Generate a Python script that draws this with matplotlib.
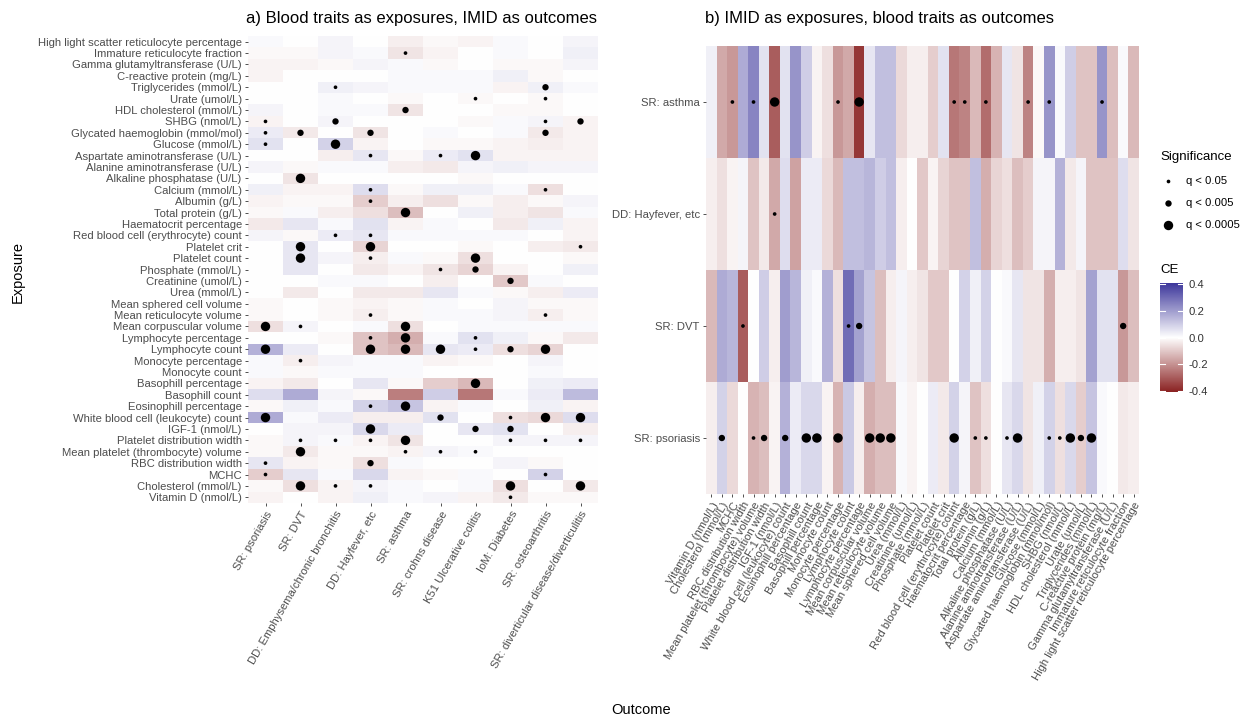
import numpy as np
import matplotlib
matplotlib.use("Agg")
import matplotlib.pyplot as plt
from matplotlib.colors import LinearSegmentedColormap, Normalize

plt.rcParams['font.family'] = ['Liberation Sans', 'DejaVu Sans']

# blood traits, top to bottom as in panel a)
traits = [
    "High light scatter reticulocyte percentage", "Immature reticulocyte fraction",
    "Gamma glutamyltransferase (U/L)", "C-reactive protein (mg/L)", "Triglycerides (mmol/L)",
    "Urate (umol/L)", "HDL cholesterol (mmol/L)", "SHBG (nmol/L)",
    "Glycated haemoglobin (mmol/mol)", "Glucose (mmol/L)", "Aspartate aminotransferase (U/L)",
    "Alanine aminotransferase (U/L)", "Alkaline phosphatase (U/L)", "Calcium (mmol/L)",
    "Albumin (g/L)", "Total protein (g/L)", "Haematocrit percentage",
    "Red blood cell (erythrocyte) count", "Platelet crit", "Platelet count",
    "Phosphate (mmol/L)", "Creatinine (umol/L)", "Urea (mmol/L)", "Mean sphered cell volume",
    "Mean reticulocyte volume", "Mean corpuscular volume", "Lymphocyte percentage",
    "Lymphocyte count", "Monocyte percentage", "Monocyte count", "Basophill percentage",
    "Basophill count", "Eosinophill percentage", "White blood cell (leukocyte) count",
    "IGF-1 (nmol/L)", "Platelet distribution width", "Mean platelet (thrombocyte) volume",
    "RBC distribution width", "MCHC", "Cholesterol (mmol/L)", "Vitamin D (nmol/L)",
]

outcomes_a = ["SR: psoriasis", "SR: DVT", "DD: Emphysema/chronic bronchitis",
              "DD: Hayfever, etc", "SR: asthma", "SR: crohns disease",
              "K51 Ulcerative colitis", "IoM: Diabetes", "SR: osteoarthritis",
              "SR: diverticular disease/diverticulitis"]

# causal estimates, panel a) (rows = traits, cols = outcomes_a)
ce_a = np.array([
    [ 0.01, 0.00, 0.02, 0.00,-0.03,-0.01,-0.02, 0.01, 0.00, 0.02],
    [-0.01,-0.01, 0.02, 0.01,-0.05,-0.02, 0.00, 0.01, 0.00, 0.03],
    [-0.02,-0.02,-0.01, 0.02, 0.01,-0.01, 0.00,-0.01,-0.01, 0.02],
    [-0.02, 0.00, 0.00, 0.00, 0.01, 0.01, 0.01, 0.03,-0.01, 0.00],
    [ 0.00, 0.00, 0.03, 0.02, 0.01, 0.01, 0.01,-0.02, 0.03, 0.01],
    [ 0.00, 0.00, 0.01, 0.00,-0.01, 0.00,-0.01, 0.00,-0.01, 0.00],
    [ 0.02, 0.00, 0.01, 0.01,-0.05, 0.00, 0.00,-0.01,-0.01, 0.00],
    [-0.02, 0.00, 0.02, 0.00, 0.00, 0.00,-0.01, 0.01, 0.02,-0.02],
    [ 0.04,-0.04, 0.00,-0.05, 0.00, 0.01, 0.00, 0.01,-0.04,-0.02],
    [ 0.06, 0.00, 0.09,-0.02, 0.00,-0.01,-0.01,-0.02,-0.03,-0.02],
    [ 0.00, 0.00,-0.03, 0.05,-0.01, 0.04, 0.06,-0.02,-0.02,-0.02],
    [ 0.02,-0.01, 0.01, 0.01,-0.03,-0.04, 0.02, 0.03, 0.02, 0.02],
    [ 0.00,-0.05, 0.00, 0.00, 0.00, 0.00,-0.01, 0.00, 0.00, 0.00],
    [ 0.03,-0.02,-0.02, 0.07,-0.01, 0.03, 0.03, 0.01,-0.06, 0.00],
    [-0.02,-0.01,-0.01,-0.09,-0.03,-0.06,-0.01,-0.03,-0.01, 0.02],
    [-0.01, 0.01,-0.03,-0.06,-0.12, 0.00, 0.03,-0.03,-0.05, 0.01],
    [-0.04, 0.05, 0.01, 0.06,-0.02, 0.01, 0.00,-0.04, 0.03,-0.02],
    [ 0.02,-0.01, 0.04, 0.05, 0.01, 0.01, 0.01, 0.01, 0.00,-0.02],
    [ 0.00, 0.05, 0.00,-0.08, 0.00, 0.00,-0.01, 0.00,-0.03,-0.04],
    [ 0.00, 0.05, 0.02,-0.03, 0.01,-0.01,-0.06, 0.00, 0.00,-0.01],
    [ 0.00, 0.05, 0.00,-0.04,-0.02,-0.05,-0.08,-0.02, 0.00, 0.03],
    [ 0.00, 0.00, 0.01, 0.01, 0.00,-0.03, 0.00,-0.10, 0.01, 0.00],
    [ 0.00,-0.04, 0.00,-0.04,-0.04, 0.05, 0.01,-0.01,-0.03, 0.04],
    [-0.01, 0.00,-0.01,-0.02,-0.01, 0.01, 0.00, 0.02,-0.01,-0.01],
    [-0.01, 0.00,-0.01,-0.03,-0.01, 0.01, 0.01, 0.02,-0.03,-0.01],
    [-0.06, 0.02, 0.00, 0.01,-0.06, 0.00, 0.01, 0.01, 0.01, 0.01],
    [ 0.00, 0.00,-0.01,-0.11,-0.15, 0.01, 0.06, 0.03,-0.01,-0.04],
    [ 0.16, 0.04, 0.00,-0.11,-0.13, 0.05, 0.04,-0.06,-0.08, 0.00],
    [ 0.01,-0.03, 0.02, 0.01, 0.01,-0.02,-0.01, 0.00, 0.02, 0.00],
    [ 0.01,-0.01, 0.01, 0.01, 0.01, 0.00, 0.00, 0.00, 0.01, 0.00],
    [-0.02,-0.04, 0.00, 0.05,-0.01,-0.09,-0.13, 0.00, 0.03, 0.04],
    [ 0.07, 0.17, 0.02,-0.01,-0.24, 0.10,-0.25, 0.01, 0.04, 0.14],
    [-0.01, 0.03, 0.01, 0.09, 0.12,-0.02, 0.01, 0.00, 0.03,-0.02],
    [ 0.17, 0.01, 0.04,-0.03,-0.03, 0.06, 0.00,-0.06,-0.07, 0.07],
    [ 0.00, 0.02, 0.02, 0.08, 0.04, 0.00, 0.05, 0.06, 0.00,-0.03],
    [-0.01, 0.02, 0.01,-0.02,-0.05, 0.00, 0.00, 0.02, 0.02, 0.02],
    [-0.01,-0.04,-0.01,-0.01,-0.02, 0.02, 0.01, 0.00, 0.00, 0.00],
    [ 0.05,-0.02,-0.01,-0.06, 0.01, 0.00, 0.00, 0.02,-0.01, 0.00],
    [-0.09, 0.05, 0.01, 0.08,-0.02,-0.01, 0.01, 0.00, 0.09, 0.00],
    [-0.01,-0.06,-0.02, 0.02, 0.01, 0.00, 0.01,-0.06, 0.00,-0.04],
    [-0.02, 0.00,-0.02, 0.03, 0.01, 0.02,-0.02,-0.04,-0.01,-0.01],
])

# significance level: 0 none, 1 q<0.05, 2 q<0.005, 3 q<0.0005
sig_a = np.array([
    [0,0,0,0,0,0,0,0,0,0],
    [0,0,0,0,1,0,0,0,0,0],
    [0,0,0,0,0,0,0,0,0,0],
    [0,0,0,0,0,0,0,0,0,0],
    [0,0,1,0,0,0,0,0,2,0],
    [0,0,0,0,0,0,1,0,1,0],
    [0,0,0,0,2,0,0,0,0,0],
    [1,0,2,0,0,0,0,0,1,2],
    [1,2,0,2,0,0,0,0,2,0],
    [1,0,3,0,0,0,0,0,0,0],
    [0,0,0,1,0,1,3,0,0,0],
    [0,0,0,0,0,0,0,0,0,0],
    [0,3,0,0,0,0,0,0,0,0],
    [0,0,0,1,0,0,0,0,1,0],
    [0,0,0,1,0,0,0,0,0,0],
    [0,0,0,0,3,0,0,0,0,0],
    [0,0,0,0,0,0,0,0,0,0],
    [0,0,1,1,0,0,0,0,0,0],
    [0,3,0,3,0,0,0,0,0,1],
    [0,3,0,1,0,0,3,0,0,0],
    [0,0,0,0,0,1,2,0,0,0],
    [0,0,0,0,0,0,0,2,0,0],
    [0,0,0,0,0,0,0,0,0,0],
    [0,0,0,0,0,0,0,0,0,0],
    [0,0,0,1,0,0,0,0,1,0],
    [3,1,0,0,3,0,0,0,0,0],
    [0,0,0,1,3,0,1,0,0,0],
    [3,0,0,3,3,3,1,2,3,0],
    [0,1,0,0,0,0,0,0,0,0],
    [0,0,0,0,0,0,0,0,0,0],
    [0,0,0,0,0,0,3,0,0,0],
    [0,0,0,0,0,0,0,0,0,0],
    [0,0,0,1,3,0,0,0,0,0],
    [3,0,0,0,0,2,0,1,3,3],
    [0,0,0,3,0,0,2,2,0,0],
    [0,1,1,1,3,0,0,1,1,1],
    [0,3,0,0,1,1,1,0,0,0],
    [1,0,0,2,0,0,0,0,0,0],
    [1,0,0,0,0,0,0,0,1,0],
    [0,3,1,1,0,0,0,3,0,3],
    [0,0,0,0,0,0,0,1,0,0],
])

# panel b): IMID exposures (top to bottom), traits on x from Vitamin D to High light scatter
exposures_b = ["SR: asthma", "DD: Hayfever, etc", "SR: DVT", "SR: psoriasis"]
traits_b = traits[::-1]

ce_b = np.array([
    [ 0.03,-0.16,-0.19, 0.17, 0.25, 0.06,-0.30, 0.06, 0.22, 0.10,-0.02,-0.06,-0.19,-0.16,-0.37,
      0.05, 0.13, 0.13,-0.07,-0.03,-0.03,-0.09, 0.06,-0.25,-0.23,-0.13,-0.27,-0.14, 0.05,-0.05,
     -0.23,-0.01, 0.22, 0.01, 0.10,-0.11,-0.11, 0.22,-0.12, 0.01,-0.13],
    [-0.03,-0.06,-0.02, 0.02,-0.11,-0.04,-0.16, 0.07,-0.17, 0.04, 0.04,-0.07,-0.13, 0.13, 0.13,
      0.15, 0.10, 0.13,-0.03, 0.00,-0.10,-0.02,-0.08,-0.11,-0.11, 0.13,-0.15,-0.08,-0.06,-0.12,
     -0.09, 0.02, 0.02, 0.16,-0.04, 0.02,-0.11,-0.11,-0.11, 0.07,-0.05],
    [-0.13, 0.17, 0.15,-0.30, 0.00, 0.10,-0.03, 0.20, 0.15, 0.03, 0.01, 0.16,-0.06, 0.30, 0.19,
      0.12,-0.12,-0.03, 0.02,-0.03,-0.05,-0.10,-0.10, 0.00, 0.09, 0.03, 0.09, 0.00, 0.01, 0.05,
     -0.05,-0.05,-0.15,-0.03,-0.03,-0.05, 0.19, 0.06, 0.06,-0.19,-0.12],
    [-0.03, 0.09,-0.07, 0.00,-0.14,-0.12,-0.02, 0.16, 0.04, 0.08, 0.08,-0.02,-0.14, 0.11,-0.03,
     -0.15,-0.12,-0.12, 0.01,-0.02, 0.00, 0.04,-0.04, 0.09, 0.02,-0.11,-0.06, 0.00, 0.05, 0.08,
     -0.05, 0.03, 0.09,-0.06, 0.08,-0.09, 0.12, 0.01, 0.00,-0.04,-0.03],
])

sig_b = np.array([
    [0,0,1,0,1,0,3,0,0,0,0,0,1,0,3,0,0,0,0,0,0,0,0,1,1,0,1,0,0,0,1,0,1,0,0,0,0,1,0,0,0],
    [0,0,0,0,0,0,1,0,0,0,0,0,0,0,0,0,0,0,0,0,0,0,0,0,0,0,0,0,0,0,0,0,0,0,0,0,0,0,0,0,0],
    [0,0,0,1,0,0,0,0,0,0,0,0,0,1,2,0,0,0,0,0,0,0,0,0,0,0,0,0,0,0,0,0,0,0,0,0,0,0,0,2,0],
    [0,2,0,0,1,2,0,2,0,3,3,0,3,0,0,3,3,3,0,0,0,0,0,3,0,1,1,0,1,3,0,0,1,1,3,2,3,0,0,0,0],
])

sig_labels = ["q < 0.05", "q < 0.005", "q < 0.0005"]
dot_sizes = {1: 7, 2: 21, 3: 46}

cmap = LinearSegmentedColormap.from_list("ce", ["#8b2323", "#ffffff", "#3e389c"])
norm = Normalize(vmin=-0.41, vmax=0.41)
tick_col = "#4d4d4d"
tick_fs = 8.1

fig = plt.figure(figsize=(12.44, 7.17), dpi=100)
W, H = 1244, 717


def add_px_axes(x0, y0, x1, y1):
    return fig.add_axes([x0 / W, 1 - y1 / H, (x1 - x0) / W, (y1 - y0) / H])


def draw_panel(ax, ce, sig, xlabels, ylabels):
    nr, nc = ce.shape
    ax.imshow(ce, cmap=cmap, norm=norm, aspect='auto', interpolation='nearest',
              extent=(-0.5, nc - 0.5, nr - 0.5, -0.5))
    rr, cc = np.nonzero(sig)
    ax.scatter(cc, rr, s=[dot_sizes[v] for v in sig[rr, cc]], c='black',
               linewidths=0, zorder=3)
    ax.set_xlim(-0.5, nc - 0.5)
    ax.set_ylim(nr - 0.5, -0.5)
    ax.set_xticks(range(nc))
    ax.set_xticklabels(xlabels, rotation=60, ha='right', rotation_mode='anchor',
                       fontsize=tick_fs, color=tick_col)
    ax.set_yticks(range(nr))
    ax.set_yticklabels(ylabels, fontsize=tick_fs, color=tick_col)
    ax.tick_params(length=2.5, width=0.6, color="#333333", pad=2)
    for s in ax.spines.values():
        s.set_visible(False)


ax_a = add_px_axes(248, 36, 598, 503)
draw_panel(ax_a, ce_a, sig_a, outcomes_a, traits)

ax_b = add_px_axes(706, 46, 1139, 494)
draw_panel(ax_b, ce_b, sig_b, traits_b, exposures_b)

fig.text(246 / W, 1 - 19 / H, "a) Blood traits as exposures, IMID as outcomes",
         fontsize=12, ha='left', va='center')
fig.text(705 / W, 1 - 19 / H, "b) IMID as exposures, blood traits as outcomes",
         fontsize=12, ha='left', va='center')
fig.text(18 / W, 1 - 272 / H, "Exposure", rotation=90, fontsize=10.5, ha='center', va='center')
fig.text(641 / W, 1 - 710 / H, "Outcome", fontsize=10.5, ha='center', va='center')

# significance legend
lax = fig.add_axes([0, 0, 1, 1])
lax.set_xlim(0, W)
lax.set_ylim(H, 0)
lax.axis('off')
lax.text(1160, 157, "Significance", fontsize=9.5, ha='left', va='center')
for i, lab in enumerate(sig_labels):
    y = 181 + 22 * i
    lax.scatter([1168], [y], s=dot_sizes[i + 1], c='black', linewidths=0)
    lax.text(1186, y, lab, fontsize=tick_fs, ha='left', va='center')
lax.text(1160, 270, "CE", fontsize=9.5, ha='left', va='center')

# colour bar
cax = add_px_axes(1160, 283, 1183, 392)
grad = np.linspace(norm.vmax, norm.vmin, 200).reshape(-1, 1)
cax.imshow(grad, cmap=cmap, norm=norm, aspect='auto',
           extent=(0, 1, norm.vmin, norm.vmax))
cax.set_xlim(0, 1)
cax.set_ylim(norm.vmin, norm.vmax)
cbar_ticks = [-0.4, -0.2, 0.0, 0.2, 0.4]
for t in cbar_ticks:
    cax.plot([0, 0.2], [t, t], color='white', lw=0.8)
    cax.plot([0.8, 1], [t, t], color='white', lw=0.8)
cax.set_xticks([])
cax.yaxis.tick_right()
cax.set_yticks(cbar_ticks)
cax.set_yticklabels([f"{t:.1f}" for t in cbar_ticks], fontsize=tick_fs, color="#333333")
cax.tick_params(length=0, pad=4)
for s in cax.spines.values():
    s.set_visible(False)

fig.savefig("out.png", dpi=100, facecolor='white')
